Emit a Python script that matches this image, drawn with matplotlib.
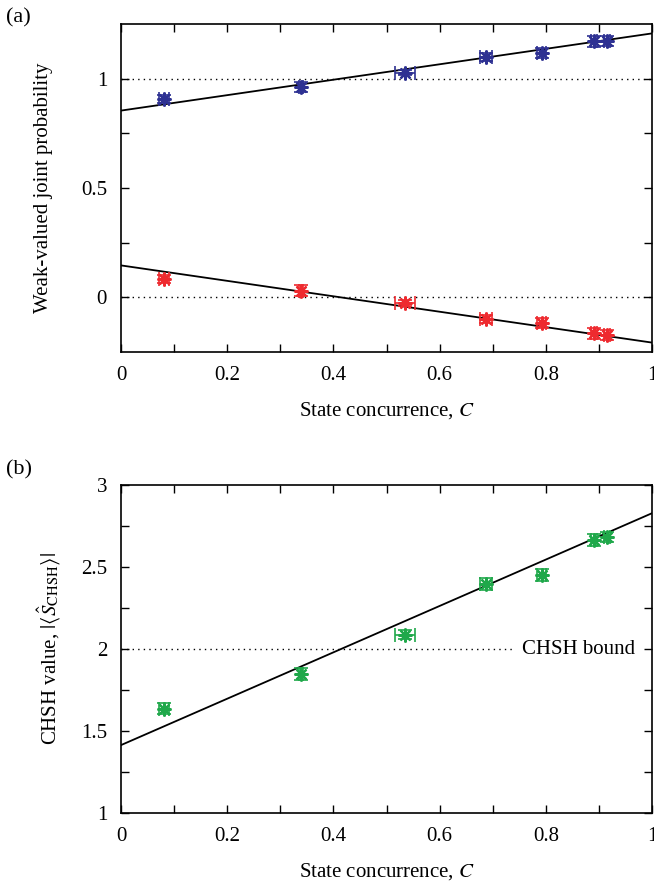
import matplotlib
matplotlib.use("Agg")
import matplotlib.pyplot as plt
import numpy as np

plt.rcParams['font.family'] = ['Liberation Serif', 'DejaVu Serif']
plt.rcParams['mathtext.fontset'] = 'stix'

# Data
concurrence = [0.081, 0.339, 0.535, 0.688, 0.792, 0.891, 0.915]
conc_err = [0.009, 0.004, 0.019, 0.011, 0.009, 0.005, 0.005]

p_blue = [0.907, 0.963, 1.028, 1.101, 1.116, 1.170, 1.171]
p_blue_err = [0.018, 0.022, 0.012, 0.018, 0.022, 0.026, 0.022]
p_red = [0.084, 0.031, -0.026, -0.099, -0.118, -0.165, -0.173]
p_red_err = [0.018, 0.024, 0.012, 0.018, 0.022, 0.026, 0.022]

chsh = [1.635, 1.850, 2.088, 2.396, 2.451, 2.664, 2.683]
chsh_err = [0.033, 0.037, 0.025, 0.035, 0.035, 0.037, 0.033]

fit_x = [0.0, 1.0]
fit_blue = [0.854, 1.207]
fit_red = [0.146, -0.207]
fit_chsh = [1.414, 2.828]

blue = '#2e3192'
red = '#ee2a2f'
green = '#1fa84a'

W, H = 654, 893
fig = plt.figure(figsize=(W/100, H/100), dpi=100)
axA = fig.add_axes([121/W, 1-352/H, (652-121)/W, (352-24)/H])
axB = fig.add_axes([121/W, 1-813/H, (652-121)/W, (813-485)/H])

FS = 15
marker = (8, 2, 0)

def style(ax):
    ax.set_xlim(0, 1)
    ax.set_xticks([0, 0.2, 0.4, 0.6, 0.8, 1.0])
    ax.set_xticklabels(['0', '0.2', '0.4', '0.6', '0.8', '1'])
    ax.set_xticks(np.arange(0.1, 1.0, 0.2), minor=True)
    ax.tick_params(which='both', direction='in', top=True, right=True,
                   length=6, width=1.0, labelsize=FS, pad=10)
    for s in ax.spines.values():
        s.set_linewidth(1.2)
    ax.set_xlabel('State concurrence, $C$', fontsize=FS, labelpad=11)

# Panel (a)
ax = axA
ax.axhline(1, color='black', ls=(0, (1, 3)), lw=1.0)
ax.axhline(0, color='black', ls=(0, (1, 3)), lw=1.0)
ax.plot(fit_x, fit_blue, color='black', lw=1.3)
ax.plot(fit_x, fit_red, color='black', lw=1.3)
for y, e, c in [(p_blue, p_blue_err, blue), (p_red, p_red_err, red)]:
    ax.errorbar(concurrence, y, xerr=conc_err, yerr=e, fmt='none', ecolor=c,
                elinewidth=1.2, capsize=5, capthick=1.2)
    ax.plot(concurrence, y, ls='none', marker=marker, ms=10, mew=1.6, color=c)
ax.set_ylim(-0.25, 1.25)
ax.set_yticks([0, 0.5, 1])
ax.set_yticklabels(['0', '0.5', '1'])
ax.set_yticks([0.25, 0.75], minor=True)
style(ax)
ax.set_ylabel('Weak-valued joint probability', fontsize=FS, labelpad=20)
fig.text(6/W, 1-18/H, '(a)', fontsize=FS+1, va='center', ha='left')

# Panel (b)
ax = axB
ax.plot([0, 0.742], [2, 2], color='black', ls=(0, (1, 3)), lw=1.0)
ax.text(0.968, 2.0, 'CHSH bound', fontsize=FS, ha='right', va='center')
ax.plot(fit_x, fit_chsh, color='black', lw=1.3)
ax.errorbar(concurrence, chsh, xerr=conc_err, yerr=chsh_err, fmt='none',
            ecolor=green, elinewidth=1.2, capsize=5, capthick=1.2)
ax.plot(concurrence, chsh, ls='none', marker=marker, ms=10, mew=1.6, color=green)
ax.set_ylim(1, 3)
ax.set_yticks([1, 1.5, 2, 2.5, 3])
ax.set_yticklabels(['1', '1.5', '2', '2.5', '3'])
ax.set_yticks([1.25, 1.75, 2.25, 2.75], minor=True)
style(ax)
ax.set_ylabel(r'CHSH value, $|\langle\hat{S}_{\mathrm{CHSH}}\rangle|$', fontsize=FS, labelpad=14)
fig.text(6/W, 1-470/H, '(b)', fontsize=FS+1, va='center', ha='left')

fig.savefig('out.png', dpi=100)
